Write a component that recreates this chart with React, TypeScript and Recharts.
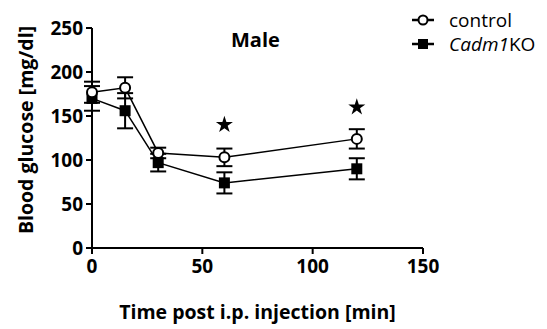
import React from 'react'
import { ComposedChart, Line, Scatter, XAxis, YAxis, ErrorBar, Symbols } from 'recharts'

// values
const times = [0, 15, 30, 60, 120]
const controlMean = [177, 182, 108, 103, 124]
const controlSem = [12, 12, 6, 10, 11]
const koMean = [170, 156, 97, 74, 90]
const koSem = [14, 20, 10, 12, 12]

const starTimes = [60, 120]
const starValues = [140, 160]

const xTicks = [0, 50, 100, 150]
const yTicks = [0, 50, 100, 150, 200, 250]

const data = times.map((t, i) => ({
  t,
  control: controlMean[i],
  controlErr: controlSem[i],
  ko: koMean[i],
  koErr: koSem[i],
}))
const stars = starTimes.map((t, i) => ({ t, star: starValues[i] }))

const FONT = '"Open Sans", sans-serif'

const OpenCircle = (p: any) => (
  <circle key={`c-${p.index}`} cx={p.cx} cy={p.cy} r={5} fill="#fff" stroke="#000" strokeWidth={2} />
)
const FilledSquare = (p: any) => (
  <rect key={`s-${p.index}`} x={p.cx - 5.5} y={p.cy - 5.5} width={11} height={11} fill="#000" />
)
const Star = (p: any) => (
  <Symbols cx={p.cx} cy={p.cy} type="star" size={90} fill="#000" />
)

function LegendBox() {
  return (
    <div style={{ position: 'absolute', left: 411, top: 8, fontFamily: FONT, fontSize: 19, color: '#000', lineHeight: '24px' }}>
      <div style={{ display: 'flex', alignItems: 'center', height: 24 }}>
        <svg width={38} height={14}>
          <line x1={1} y1={7} x2={23} y2={7} stroke="#000" strokeWidth={2.5} />
          <circle cx={12} cy={7} r={4.5} fill="#fff" stroke="#000" strokeWidth={2} />
        </svg>
        <span>control</span>
      </div>
      <div style={{ display: 'flex', alignItems: 'center', height: 24 }}>
        <svg width={38} height={14}>
          <line x1={1} y1={7} x2={23} y2={7} stroke="#000" strokeWidth={2.5} />
          <rect x={7} y={2} width={10} height={10} fill="#000" />
        </svg>
        <span><i>Cadm1</i>KO</span>
      </div>
    </div>
  )
}

export default function App() {
  return (
    <div style={{ position: 'absolute', left: 0, top: 0, width: 547, height: 329, background: '#fff' }}>
      <ComposedChart
        width={547}
        height={329}
        data={data}
        margin={{ top: 28, right: 124, left: 0, bottom: 0 }}
      >
        <XAxis
          dataKey="t"
          type="number"
          domain={[0, 150]}
          ticks={xTicks}
          stroke="#000"
          strokeWidth={2}
          tickSize={6}
          tickMargin={6}
          height={81}
          tick={{ fill: '#000', fontSize: 19, fontWeight: 700, fontFamily: FONT }}
          label={{
            content: (p: any) => (
              <text x={p.viewBox.x + p.viewBox.width / 2} y={319} textAnchor="middle"
                fontFamily={FONT} fontSize={19.5} fontWeight={700} fill="#000">
                Time post i.p. injection [min]
              </text>
            ),
          }}
        />
        <YAxis
          type="number"
          domain={[0, 250]}
          ticks={yTicks}
          stroke="#000"
          strokeWidth={2}
          tickSize={6}
          tickMargin={3}
          width={92}
          tick={{ fill: '#000', fontSize: 19, fontWeight: 700, fontFamily: FONT }}
          label={{
            content: (p: any) => {
              const cy = p.viewBox.y + p.viewBox.height / 2 - 8
              return (
                <text x={25} y={cy} textAnchor="middle" dominantBaseline="central"
                  transform={`rotate(-90, 25, ${cy})`}
                  fontFamily={FONT} fontSize={19.5} fontWeight={700} fill="#000">
                  Blood glucose [mg/dl]
                </text>
              )
            },
          }}
        />
        <Line dataKey="ko" stroke="#000" strokeWidth={1.5} dot={FilledSquare} isAnimationActive={false}>
          <ErrorBar dataKey="koErr" direction="y" width={8} stroke="#000" strokeWidth={2} />
        </Line>
        <Line dataKey="control" stroke="#000" strokeWidth={1.5} dot={OpenCircle} isAnimationActive={false}>
          <ErrorBar dataKey="controlErr" direction="y" width={8} stroke="#000" strokeWidth={2} />
        </Line>
        <Scatter data={stars} dataKey="star" shape={Star} isAnimationActive={false} />
      </ComposedChart>
      <LegendBox />
      <div style={{ position: 'absolute', left: 231, top: 26, fontFamily: FONT, fontSize: 20, fontWeight: 700, color: '#000' }}>
        Male
      </div>
    </div>
  )
}
